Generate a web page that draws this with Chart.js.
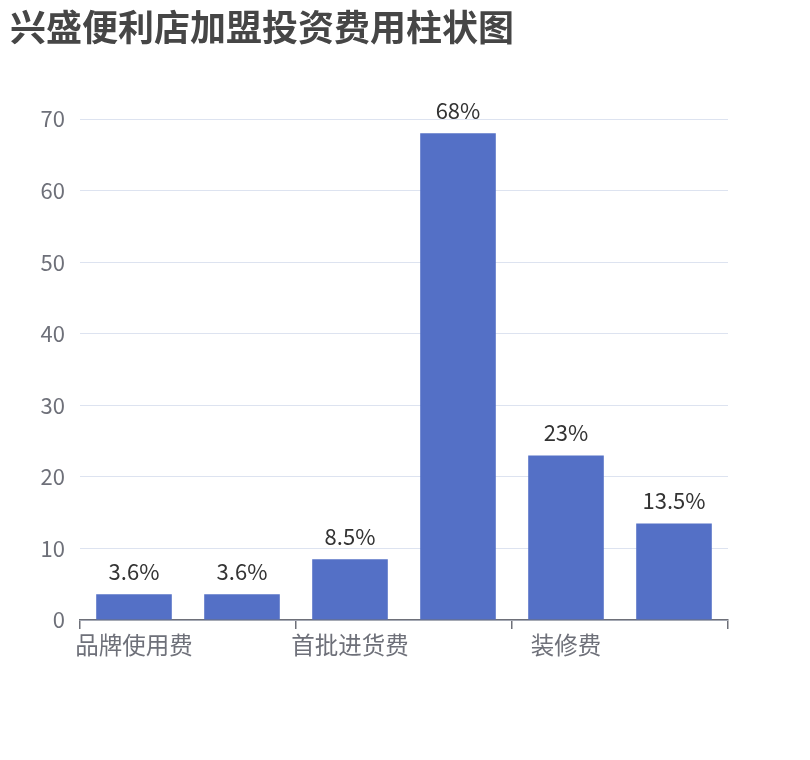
<!DOCTYPE html>
<html>
<head>
<meta charset="utf-8">
<script src="https://cdn.jsdelivr.net/npm/chart.js@4.4.1/dist/chart.umd.min.js"></script>
<style>
  html, body { margin: 0; padding: 0; background: #fff; }
  #wrap { width: 810px; height: 760px; position: relative; }
</style>
</head>
<body>
<div id="wrap"><canvas id="chart"></canvas></div>
<script>
// chart data
const titleText = '兴盛便利店加盟投资费用柱状图';
const categories = ['品牌使用费', '保证金', '首批进货费', '设备费', '装修费', '其他费用'];
const values = [3.6, 3.6, 8.5, 68, 23, 13.5];
const valueLabels = ['3.6%', '3.6%', '8.5%', '68%', '23%', '13.5%'];
const yTicks = [0, 10, 20, 30, 40, 50, 60, 70];

const FONT = '"Noto Sans CJK SC", "Noto Sans", sans-serif';

const titlePlugin = {
  id: 'titleText',
  afterDraw(chart) {
    const ctx = chart.ctx;
    ctx.save();
    ctx.font = 'bold 36px ' + FONT;
    ctx.fillStyle = '#464646';
    ctx.textAlign = 'left';
    ctx.textBaseline = 'alphabetic';
    ctx.fillText(titleText, 10, 41);
    ctx.restore();
  }
};

const valueLabelPlugin = {
  id: 'valueLabels',
  afterDatasetsDraw(chart) {
    const ctx = chart.ctx;
    const meta = chart.getDatasetMeta(0);
    ctx.save();
    ctx.font = '22px ' + FONT;
    ctx.fillStyle = '#333';
    ctx.textAlign = 'center';
    ctx.textBaseline = 'alphabetic';
    meta.data.forEach((bar, i) => {
      ctx.fillText(valueLabels[i], bar.x, bar.y - 14);
    });
    ctx.restore();
  }
};

new Chart(document.getElementById('chart'), {
  type: 'bar',
  data: {
    labels: categories,
    datasets: [{
      data: values,
      backgroundColor: '#5470c6',
      barPercentage: 0.7,
      categoryPercentage: 1
    }]
  },
  options: {
    responsive: true,
    maintainAspectRatio: false,
    animation: false,
    layout: { padding: { left: 0, right: 82, top: 119, bottom: 0 } },
    plugins: {
      legend: { display: false },
      tooltip: { enabled: false }
    },
    scales: {
      x: {
        offset: true,
        grid: {
          offset: true,
          drawOnChartArea: false,
          drawTicks: true,
          tickLength: 9,
          lineWidth: 1.5,
          color: ctx => (ctx.index === undefined || ctx.index % 2 === 0) ? '#6e7079' : 'rgba(0,0,0,0)'
        },
        border: { color: '#6e7079', width: 1.5 },
        ticks: {
          autoSkip: false,
          maxRotation: 0,
          color: '#6e7079',
          font: { family: FONT, size: 23.5 },
          padding: 2,
          callback: (v, i) => i % 2 === 0 ? categories[i] : ''
        },
        afterFit: s => { s.height = 140; }
      },
      y: {
        min: 0,
        max: 70,
        afterBuildTicks: s => { s.ticks = yTicks.map(v => ({ value: v })); },
        grid: { color: '#dde3f0', drawTicks: false },
        border: { display: false },
        ticks: {
          color: '#6e7079',
          font: { family: FONT, size: 22 },
          padding: 15
        },
        afterFit: s => { s.width = 80; }
      }
    }
  },
  plugins: [titlePlugin, valueLabelPlugin]
});
</script>
</body>
</html>
